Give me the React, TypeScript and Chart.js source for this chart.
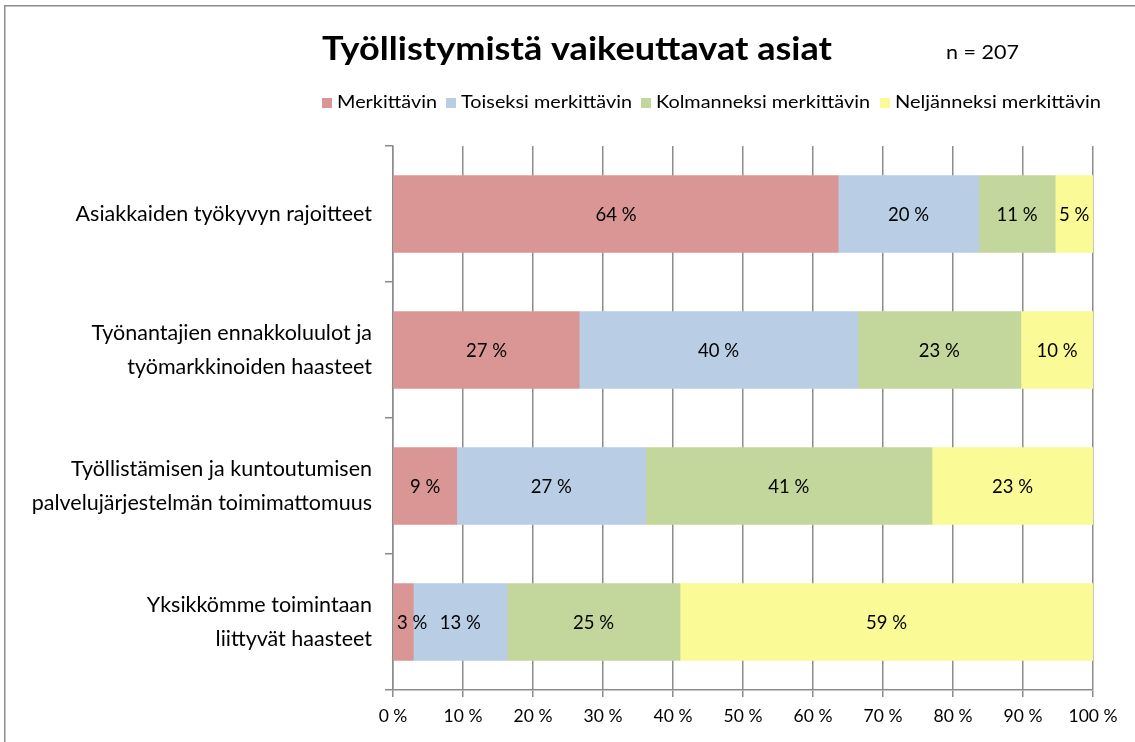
import React, { useEffect, useRef } from "react";
import { Chart, registerables } from "chart.js";

Chart.register(...registerables);

const categories: string[][] = [
  ["Asiakkaiden työkyvyn rajoitteet"],
  ["Työnantajien ennakkoluulot ja", "työmarkkinoiden haasteet"],
  ["Työllistämisen ja kuntoutumisen", "palvelujärjestelmän toimimattomuus"],
  ["Yksikkömme toimintaan", "liittyvät haasteet"],
];
const seriesNames = ["Merkittävin", "Toiseksi merkittävin", "Kolmanneksi merkittävin", "Neljänneksi merkittävin"];
const merkittavin = [63.6, 26.6, 9.1, 2.9];
const toiseksi = [20.1, 39.8, 27.0, 13.4];
const kolmanneksi = [10.9, 23.3, 40.9, 24.7];
const neljanneksi = [5.4, 10.3, 23.0, 59.0];
const colors = ["#D99694", "#B9CDE5", "#C3D69B", "#FAFA96"];
const xTicks = [0, 10, 20, 30, 40, 50, 60, 70, 80, 90, 100];
const titleText = "Työllistymistä vaikeuttavat asiat";
const nText = "n = 207";

const FONT = "Lato, 'Open Sans', sans-serif";

function fitText(ctx: any, text: string, x: number, y: number, w: number) {
  const m = ctx.measureText(text).width;
  const s = w / m;
  ctx.save();
  ctx.translate(x, y);
  ctx.scale(s, 1);
  ctx.fillText(text, 0, 0);
  ctx.restore();
}

const overlay = {
  id: "overlay",
  afterDatasetsDraw(chart: any) {
    const ctx = chart.ctx;
    const area = chart.chartArea;
    ctx.save();
    ctx.fillStyle = "#000";
    ctx.font = `18.5px ${FONT}`;
    ctx.textAlign = "center";
    ctx.textBaseline = "middle";
    chart.data.datasets.forEach((ds: any, di: number) => {
      const meta = chart.getDatasetMeta(di);
      meta.data.forEach((el: any, i: number) => {
        const p = el.getCenterPoint();
        const txt = `${Math.round(ds.data[i])} %`;
        const w = ctx.measureText(txt).width;
        const x = Math.max(p.x, area.left + w / 2 + 4);
        ctx.fillText(txt, x, p.y + 1);
      });
    });
    ctx.restore();
  },
  afterDraw(chart: any) {
    const ctx = chart.ctx;
    ctx.save();
    // frame (left and top edges)
    ctx.strokeStyle = "#8c8c8c";
    ctx.lineWidth = 1.5;
    ctx.beginPath();
    ctx.moveTo(4.75, 742);
    ctx.lineTo(4.75, 5.75);
    ctx.lineTo(1135, 5.75);
    ctx.stroke();
    // title
    ctx.fillStyle = "#000";
    ctx.textBaseline = "middle";
    ctx.textAlign = "left";
    ctx.font = `bold 32px ${FONT}`;
    fitText(ctx, titleText, 322, 50, 510);
    ctx.font = `19px ${FONT}`;
    fitText(ctx, nText, 946, 53, 73);
    // legend
    const legendX = [322, 446, 641, 880];
    const legendW = [100, 171, 214, 206];
    ctx.font = `16.5px ${FONT}`;
    chart.data.datasets.forEach((ds: any, i: number) => {
      const x = legendX[i];
      ctx.fillStyle = ds.backgroundColor;
      ctx.fillRect(x, 98, 10, 10);
      ctx.fillStyle = "#000";
      fitText(ctx, ds.label, x + 15, 103, legendW[i]);
    });
    ctx.restore();
  },
};

export default function App() {
  const ref = useRef<HTMLCanvasElement | null>(null);
  useEffect(() => {
    if (!ref.current) return;
    const seriesValues = [merkittavin, toiseksi, kolmanneksi, neljanneksi];
    const chart = new Chart(ref.current, {
      type: "bar",
      data: {
        labels: categories as any,
        datasets: seriesNames.map((name, i) => ({
          label: name,
          data: seriesValues[i],
          backgroundColor: colors[i],
          borderWidth: 0,
          barThickness: 77,
        })),
      },
      options: {
        indexAxis: "y",
        animation: false,
        responsive: false,
        maintainAspectRatio: false,
        layout: { padding: { top: 146, right: 42, left: 0, bottom: 0 } },
        plugins: {
          legend: { display: false },
          title: { display: false },
          tooltip: { enabled: false },
        },
        scales: {
          x: {
            stacked: true,
            min: 0,
            max: 100,
            afterBuildTicks: (scale: any) => {
              scale.ticks = xTicks.map((v) => ({ value: v }));
            },
            afterFit: (scale: any) => {
              scale.height = 52;
            },
            ticks: {
              callback: (v: any) => `${v} %`,
              color: "#000",
              font: { family: FONT, size: 17.5 },
              padding: 9,
              maxRotation: 0,
            },
            grid: {
              color: "#8c8c8c",
              lineWidth: 1.5,
              tickLength: 7,
              drawTicks: true,
            },
            border: { color: "#8c8c8c", width: 1.5 },
          },
          y: {
            stacked: true,
            afterFit: (scale: any) => {
              scale.width = 393;
            },
            ticks: {
              color: "#000",
              font: { family: FONT, size: 21.5, lineHeight: 1.6 },
              padding: 13,
            },
            grid: {
              offset: true,
              drawOnChartArea: false,
              drawTicks: true,
              tickLength: 8,
              color: "#8c8c8c",
              lineWidth: 1.5,
            },
            border: { color: "#8c8c8c", width: 1.5 },
          },
        },
      },
      plugins: [overlay],
    });
    return () => chart.destroy();
  }, []);
  return (
    <div style={{ position: "fixed", left: 0, top: 0, width: 1135, height: 742, background: "#fff" }}>
      <canvas ref={ref} width={1135} height={742} style={{ width: 1135, height: 742 }} />
    </div>
  );
}
